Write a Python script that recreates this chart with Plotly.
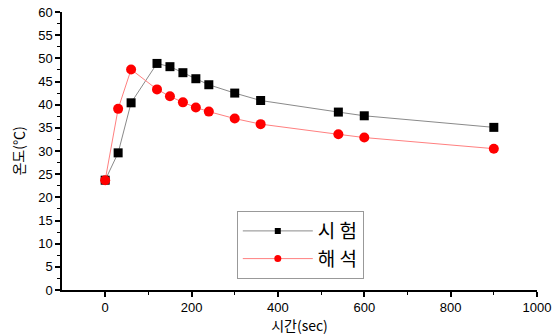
import plotly.graph_objects as go

time_sec = [0, 30, 60, 120, 150, 180, 210, 240, 300, 360, 540, 600, 900]
test_temp = [23.7, 29.6, 40.4, 48.9, 48.2, 46.9, 45.6, 44.3, 42.5, 40.9, 38.4, 37.6, 35.1]
analysis_temp = [23.7, 39.1, 47.6, 43.3, 41.8, 40.5, 39.4, 38.5, 37.0, 35.8, 33.6, 32.9, 30.5]
series_names = ["시 험", "해 석"]
x_ticks = [0, 200, 400, 600, 800, 1000]

styles = [
    dict(line=dict(color="#8a8a8a", width=1), symbol="square", size=9, lsize=6, color="black"),
    dict(line=dict(color="#ff8080", width=1), symbol="circle", size=10, lsize=7, color="red"),
]

fig = go.Figure()
for name, ys, st in zip(series_names, [test_temp, analysis_temp], styles):
    fig.add_trace(go.Scatter(
        x=time_sec, y=ys, name=name, mode="lines+markers", showlegend=False,
        line=st["line"], marker=dict(symbol=st["symbol"], size=st["size"], color=st["color"]),
    ))
for name, st in zip(series_names, styles):
    fig.add_trace(go.Scatter(
        x=[None], y=[None], name=name, mode="lines+markers", showlegend=True,
        line=st["line"], marker=dict(symbol=st["symbol"], size=st["lsize"], color=st["color"]),
    ))

tick_font = dict(family="Arial", size=13, color="black")
fig.update_layout(
    width=552, height=335,
    margin=dict(l=62, r=15, t=12, b=45),
    paper_bgcolor="white", plot_bgcolor="white",
    showlegend=True,
    legend=dict(
        x=0.368, y=0.284, xanchor="left", yanchor="top",
        bordercolor="#999999", borderwidth=1, bgcolor="white",
        font=dict(family="Noto Sans CJK KR", size=19, color="black"),
        itemwidth=70, tracegroupgap=0,
    ),
    xaxis=dict(
        range=[-100, 1000], tickvals=x_ticks, automargin=False,
        showgrid=False, zeroline=False, showline=True, linecolor="black", linewidth=1.5,
        ticks="outside", ticklen=5, tickcolor="black", tickwidth=1.5,
        minor=dict(tickvals=[100, 300, 500, 700, 900], ticks="outside", ticklen=3, tickcolor="black", tickwidth=1),
        tickfont=tick_font,
        title=dict(text="시간(sec)", font=dict(family="Noto Sans CJK KR", size=14, color="black"), standoff=4),
    ),
    yaxis=dict(
        range=[0, 60], dtick=5, tick0=0, automargin=False,
        showgrid=False, zeroline=False, showline=True, linecolor="black", linewidth=1.5,
        ticks="outside", ticklen=5, tickcolor="black", tickwidth=1.5,
        minor=dict(dtick=2.5, ticks="outside", ticklen=3, tickcolor="black", tickwidth=1),
        tickfont=tick_font,
        title=dict(text="온도(℃)", font=dict(family="Noto Sans CJK KR", size=14, color="black"), standoff=10),
    ),
)

fig.write_html("out.html")
